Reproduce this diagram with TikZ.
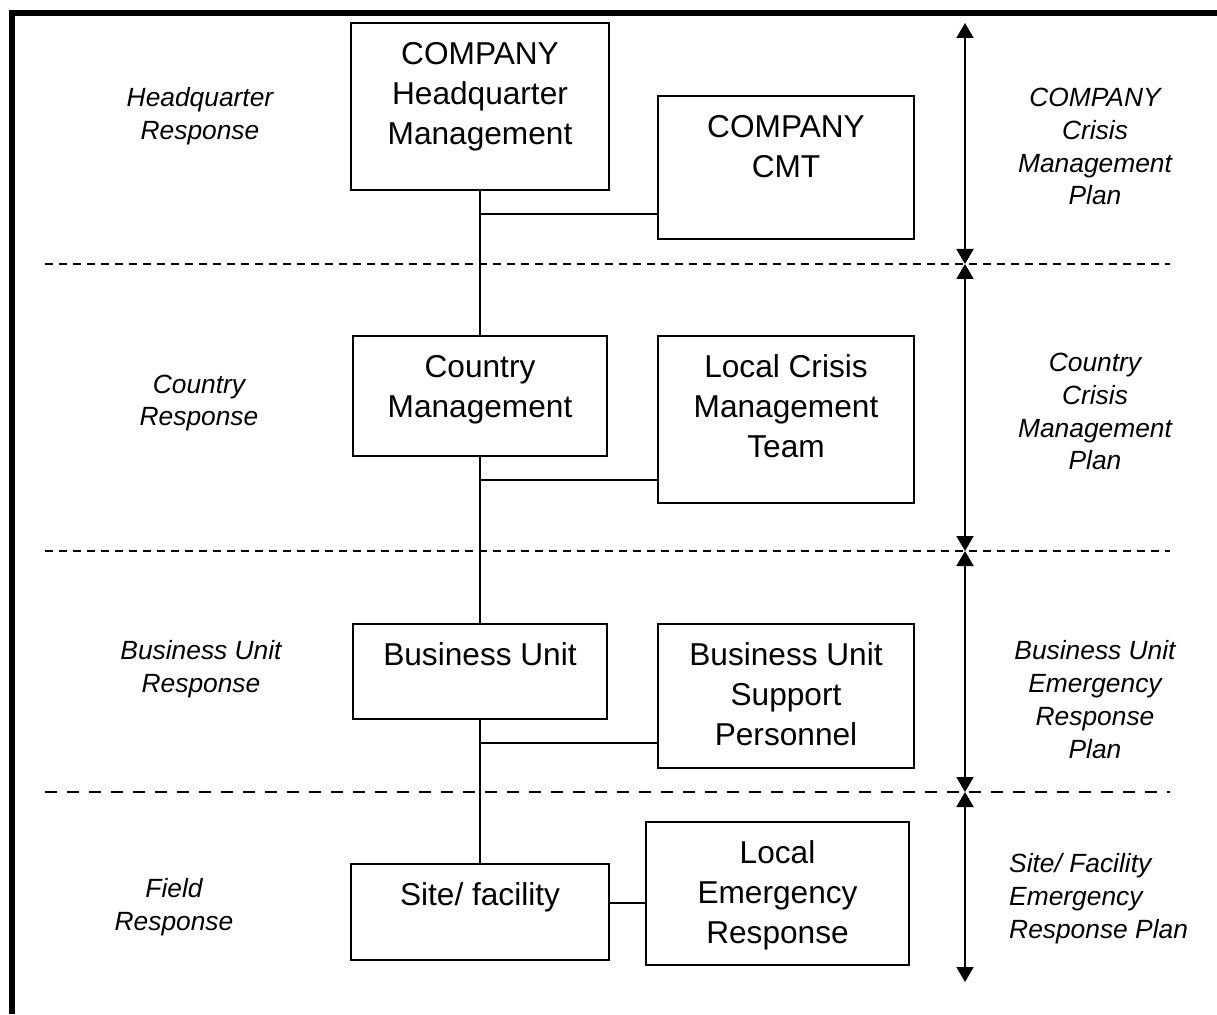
\documentclass[tikz,border=0pt]{standalone}
\usepackage{fontspec}
\setmainfont{Liberation Sans}
\usetikzlibrary{arrows.meta}

\newcommand{\boxtext}[2]{\parbox[c][#1][t]{4.8cm}{\centering\rule{0pt}{0.83cm}#2}}

\begin{document}
\begin{tikzpicture}[>={Triangle[length=0.3cm,width=0.34cm]},
		unit/.style={draw,rectangle,line width=1.1pt,inner sep=0pt,font=\fontsize{18}{22.7}\selectfont},
		level/.style={align=center,font=\fontsize{15}{18.7}\selectfont\itshape},
		sep/.style={line width=1.1pt,dash pattern=on 0.16cm off 0.12cm},
		longsep/.style={line width=1.1pt,dash pattern=on 0.24cm off 0.2cm}
		]
	\useasboundingbox (0,0) rectangle (24.34,20.28);

	% Keret
	\draw[line width=0.12cm] (0.24,0) -- (0.24,20.02) -- (24.34,20.02);

	% Szintek hatarai
	% ----------------------
	\draw[sep] (0.9,15.0) -- (23.4,15.0);
	\draw[sep] (0.9,9.26) -- (23.4,9.26);
	\draw[longsep] (0.9,4.44) -- (23.4,4.44);

	% Szervezeti egysegek
	% ----------------------

		% Kozpont
		\node[unit, minimum height=3.34cm,minimum width=5.16cm] (HQ) at (9.6,18.15) {\boxtext{3.34cm}{COMPANY\\ Headquarter\\ Management}};
		\node[unit, minimum height=2.86cm,minimum width=5.12cm] (CMT) at (15.72,16.93) {\boxtext{2.86cm}{COMPANY\\ CMT}};

		% Orszag
		\node[unit, minimum height=2.4cm,minimum width=5.08cm] (Country) at (9.6,12.36) {\boxtext{2.4cm}{Country\\ Management}};
		\node[unit, minimum height=3.34cm,minimum width=5.12cm] (LCMT) at (15.72,11.89) {\boxtext{3.34cm}{Local Crisis\\ Management\\ Team}};

		% Uzletag
		\node[unit, minimum height=1.9cm,minimum width=5.08cm] (BU) at (9.6,6.85) {\boxtext{1.9cm}{Business Unit}};
		\node[unit, minimum height=2.88cm,minimum width=5.12cm] (BUSP) at (15.72,6.36) {\boxtext{2.88cm}{Business Unit\\ Support\\ Personnel}};

		% Telephely
		\node[unit, minimum height=1.92cm,minimum width=5.16cm] (Site) at (9.6,2.04) {\boxtext{1.92cm}{Site/ facility}};
		\node[unit, minimum height=2.86cm,minimum width=5.26cm] (LER) at (15.55,2.41) {\boxtext{2.86cm}{Local\\ Emergency\\ Response}};

	% Kapcsolatok
	\draw[line width=1.1pt] (HQ.south) -- (Country.north);
	\draw[line width=1.1pt] (Country.south) -- (BU.north);
	\draw[line width=1.1pt] (BU.south) -- (Site.north);
	\draw[line width=1.1pt] (HQ.south |- CMT.200) -- (CMT.200);
	\draw[line width=1.1pt] (Country.south |- LCMT.205) -- (LCMT.205);
	\draw[line width=1.1pt] (BU.south |- BUSP.200) -- (BUSP.200);
	\draw[line width=1.1pt] (LER.184 -| Site.east) -- (LER.184);

	% Valaszszintek (bal oldal)
	% ----------------------
	\node[level] (hqResp) at (4.0,17.95) {Headquarter\\ Response};
	\node[level] (countryResp) at (3.98,12.22) {Country\\ Response};
	\node[level] (buResp) at (4.02,6.9) {Business Unit\\ Response};
	\node[level] (fieldResp) at (3.48,2.13) {Field\\ Response};

	% Tervek (jobb oldal)
	% ----------------------
	\coordinate (p0) at (19.3,19.82);
	\coordinate (p1) at (19.3,15.0);
	\coordinate (p2) at (19.3,9.26);
	\coordinate (p3) at (19.3,4.44);
	\coordinate (p4) at (19.3,0.64);
	\draw[<->,line width=1.1pt] (p0) -- (p1);
	\draw[<->,line width=1.1pt] (p1) -- (p2);
	\draw[<->,line width=1.1pt] (p2) -- (p3);
	\draw[<->,line width=1.1pt] (p3) -- (p4);

	\node[level] (hqPlan) at (21.9,17.35) {COMPANY\\ Crisis\\ Management\\ Plan};
	\node[level] (countryPlan) at (21.9,12.05) {Country\\ Crisis\\ Management\\ Plan};
	\node[level] (buPlan) at (21.9,6.29) {Business Unit\\ Emergency\\ Response\\ Plan};
	\node[level,align=left,anchor=west] (sitePlan) at (20.06,2.3) {Site/ Facility\\ Emergency\\ Response Plan};

\end{tikzpicture}
\end{document}
